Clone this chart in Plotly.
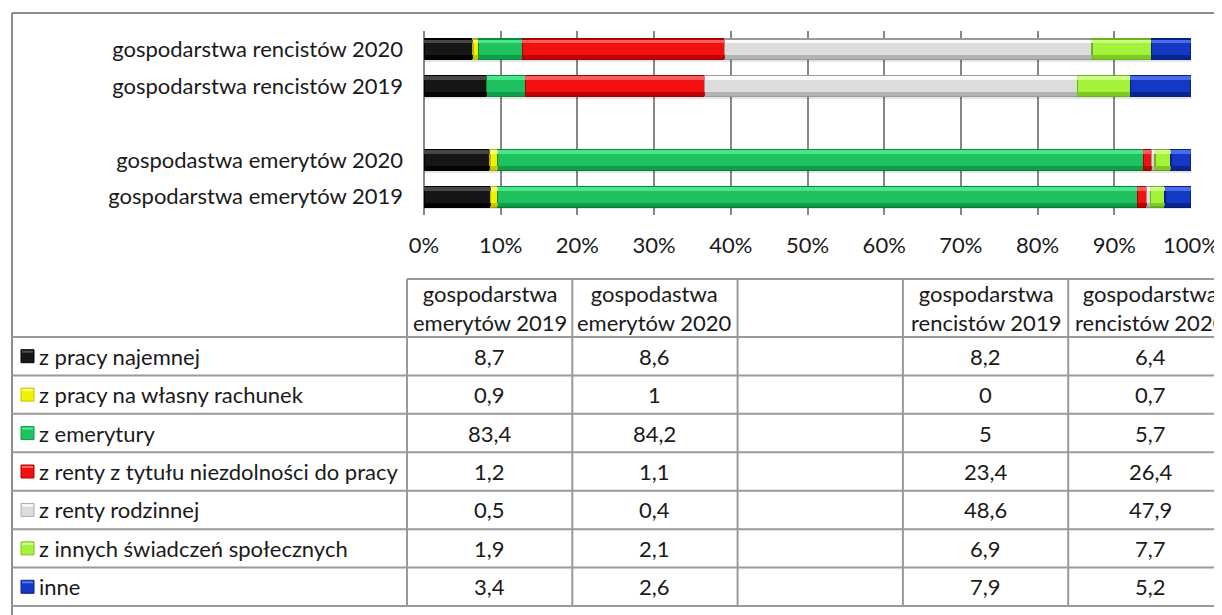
import plotly.graph_objects as go

# ---------------- data ----------------
categories = ["gospodarstwa emerytów 2019", "gospodastwa emerytów 2020", " ",
              "gospodarstwa rencistów 2019", "gospodarstwa rencistów 2020"]

series_names = ["z pracy najemnej", "z pracy na własny rachunek", "z emerytury",
                "z renty z tytułu niezdolności do pracy", "z renty rodzinnej",
                "z innych świadczeń społecznych", "inne"]

pracy_najemnej = [8.7, 8.6, None, 8.2, 6.4]
pracy_wlasny = [0.9, 1, None, 0, 0.7]
emerytury = [83.4, 84.2, None, 5, 5.7]
renty_niezdolnosc = [1.2, 1.1, None, 23.4, 26.4]
renty_rodzinnej = [0.5, 0.4, None, 48.6, 47.9]
innych_swiadczen = [1.9, 2.1, None, 6.9, 7.7]
inne = [3.4, 2.6, None, 7.9, 5.2]

series_values = [pracy_najemnej, pracy_wlasny, emerytury, renty_niezdolnosc,
                 renty_rodzinnej, innych_swiadczen, inne]

tick_values = [0, 10, 20, 30, 40, 50, 60, 70, 80, 90, 100]
tick_labels = [f"{v}%" for v in tick_values]

# ---------------- style ----------------
colors = ["#161616", "#f2f200", "#1fc25e", "#f21010", "#dcdcdc", "#a4f23c", "#1238c4"]
edge_colors = ["#000000", "#b8b800", "#0c8a3e", "#a80000", "#9a9a9a", "#6cb21c", "#06208a"]
light_colors = ["#505050", "#ffff8a", "#52ec92", "#ff6a6a", "#ffffff", "#d2ff8c", "#5276f2"]
dark_colors = ["#000000", "#c4c400", "#0c9a48", "#b40000", "#acacac", "#78c41e", "#0a2288"]

OFF = 8  # page body margin
W, H = 1222 - OFF, 615 - OFF
L, R, T, B = 424, 1191, 31, 215  # plot area in page pixels
FONT = "Lato, 'Noto Sans', sans-serif"
FS = 22
GRID = "#878787"
TBL = "#9a9a9a"
TXT = "#1a1a1a"
BAR_W = 0.57
BAND = 0.1
YRANGE = [-0.5, len(categories) - 0.5]


def px(x):
    return (x - L) / (R - L)


def py(y):
    return (B - y) / (B - T)


fig = go.Figure()
# soft drop shadow layer
for vals in series_values:
    fig.add_trace(go.Bar(y=categories, x=vals, orientation="h", yaxis="y4",
                         width=0.06, offset=-BAR_W / 2 - 0.06,
                         marker=dict(color="rgba(0,0,0,0.10)", line=dict(width=0)),
                         showlegend=False, hoverinfo="skip"))
# main bars
for name, vals, c, ec in zip(series_names, series_values, colors, edge_colors):
    fig.add_trace(go.Bar(
        y=categories, x=vals, name=name, orientation="h",
        width=BAR_W, offset=-BAR_W / 2,
        marker=dict(color=c, line=dict(color=ec, width=1.2)),
        showlegend=False, hoverinfo="x+y+name",
    ))
# bevel highlight (top band) and shade (bottom band)
for vals, lc in zip(series_values, light_colors):
    fig.add_trace(go.Bar(y=categories, x=vals, orientation="h", yaxis="y2",
                         width=BAND, offset=BAR_W / 2 - BAND - 0.02,
                         marker=dict(color=lc, line=dict(width=0)), opacity=0.85,
                         showlegend=False, hoverinfo="skip"))
for vals, dc in zip(series_values, dark_colors):
    fig.add_trace(go.Bar(y=categories, x=vals, orientation="h", yaxis="y3",
                         width=BAND, offset=-BAR_W / 2 + 0.02,
                         marker=dict(color=dc, line=dict(width=0)), opacity=0.85,
                         showlegend=False, hoverinfo="skip"))

shapes = []
annotations = []

# outer chart border (top + left)
shapes.append(dict(type="line", xref="paper", yref="paper", x0=px(12), x1=px(1240),
                   y0=py(13), y1=py(13), line=dict(color="#8c8c8c", width=2)))
shapes.append(dict(type="line", xref="paper", yref="paper", x0=px(12), x1=px(12),
                   y0=py(13), y1=py(630), line=dict(color="#8c8c8c", width=2)))

# data table geometry
col_left = 407
col_w = 165.3
n_cols = len(categories)
header_top = 279
row_top = 337
row_h = 38.43
n_rows = len(series_names)
table_bottom = row_top + n_rows * row_h

shapes.append(dict(type="line", xref="paper", yref="paper", x0=px(col_left), x1=px(1240),
                   y0=py(header_top), y1=py(header_top), line=dict(color=TBL, width=2)))
for i in range(n_rows + 1):
    yy = row_top + i * row_h
    shapes.append(dict(type="line", xref="paper", yref="paper", x0=px(12), x1=px(1240),
                       y0=py(yy), y1=py(yy), line=dict(color=TBL, width=2)))
for j in range(n_cols + 1):
    xx = col_left + j * col_w
    shapes.append(dict(type="line", xref="paper", yref="paper", x0=px(xx), x1=px(xx),
                       y0=py(header_top), y1=py(table_bottom), line=dict(color=TBL, width=2)))

for j, cat in enumerate(categories):
    label = cat.strip().replace(" ", "<br>", 1) if cat.strip() else ""
    if label:
        annotations.append(dict(xref="paper", yref="paper",
                                x=px(col_left + (j + 0.5) * col_w), y=py((header_top + row_top) / 2),
                                text=label, showarrow=False, xanchor="center", yanchor="middle",
                                font=dict(family=FONT, size=FS, color=TXT)))


def fmt(v):
    return f"{v:g}".replace(".", ",")


for i, (name, vals, c, lc, dc) in enumerate(zip(series_names, series_values, colors,
                                                 light_colors, dark_colors)):
    yc = row_top + (i + 0.5) * row_h
    shapes.append(dict(type="rect", xref="paper", yref="paper", x0=px(21), x1=px(34),
                       y0=py(yc - 6.5), y1=py(yc + 6.5), fillcolor=c, line=dict(color=dc, width=1)))
    shapes.append(dict(type="rect", xref="paper", yref="paper", x0=px(22), x1=px(33),
                       y0=py(yc - 5.5), y1=py(yc - 3.5), fillcolor=lc, line=dict(width=0)))
    annotations.append(dict(xref="paper", yref="paper", x=px(37), y=py(yc), text=name,
                            showarrow=False, xanchor="left", yanchor="middle",
                            font=dict(family=FONT, size=FS, color=TXT)))
    for j, v in enumerate(vals):
        if v is None:
            continue
        annotations.append(dict(xref="paper", yref="paper",
                                x=px(col_left + (j + 0.5) * col_w), y=py(yc), text=fmt(v),
                                showarrow=False, xanchor="center", yanchor="middle",
                                font=dict(family=FONT, size=FS, color=TXT)))

hidden_y = dict(overlaying="y", visible=False, type="category", categoryorder="array",
                categoryarray=categories, range=YRANGE, fixedrange=True, automargin=False)

fig.update_layout(
    width=W, height=H,
    margin=dict(l=L - OFF, r=W - (R - OFF), t=T - OFF, b=H - (B - OFF), pad=0, autoexpand=False),
    barmode="stack",
    plot_bgcolor="white", paper_bgcolor="white",
    font=dict(family=FONT, size=FS, color=TXT),
    xaxis=dict(range=[0, 100], tickmode="array", tickvals=tick_values, ticktext=tick_labels,
               showgrid=True, gridcolor=GRID, gridwidth=1.5, zeroline=True, zerolinecolor=GRID,
               zerolinewidth=1.5, showline=False, ticks="", ticklabelstandoff=15,
               automargin=False,
               tickfont=dict(family=FONT, size=FS, color=TXT), fixedrange=True),
    yaxis=dict(type="category", categoryorder="array", categoryarray=categories, range=YRANGE,
               showgrid=False, zeroline=False, showline=False, ticks="", ticklabelstandoff=20,
               automargin=False,
               tickfont=dict(family=FONT, size=FS, color=TXT), fixedrange=True),
    yaxis2=hidden_y, yaxis3=hidden_y, yaxis4=hidden_y,
    shapes=shapes, annotations=annotations,
)

fig.write_html("out.html")
